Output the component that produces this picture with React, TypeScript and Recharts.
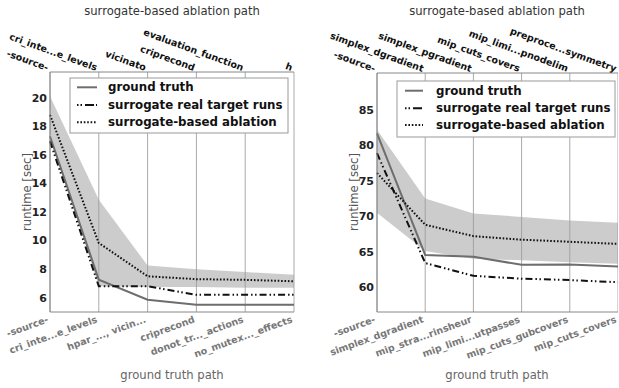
import { ComposedChart, Line, Area, XAxis, YAxis, CartesianGrid } from 'recharts';

const FONT = '"DejaVu Sans", sans-serif';

// left panel
const leftGroundTruthPath = ['-source-', 'cri_inte...e_levels', 'hpar_..., vicin...', 'criprecond', 'donot_tr..._actions', 'no_mutex..._effects'];
const leftSurrogatePath = ['-source-', 'cri_inte...e_levels', 'vicinato', 'criprecond', 'evaluation_function', 'h'];
const leftGroundTruth = [17.3, 7.26, 5.86, 5.5, 5.5, 5.5];
const leftRealRuns = [16.95, 6.8, 6.8, 6.2, 6.2, 6.2];
const leftAblation = [18.8, 9.83, 7.5, 7.3, 7.25, 7.15];
const leftBandLow = [17.5, 6.8, 6.75, 6.75, 6.7, 6.7];
const leftBandHigh = [20.1, 12.86, 8.25, 8.0, 7.8, 7.6];
const leftYTicks = [6, 8, 10, 12, 14, 16, 18, 20];

// right panel
const rightGroundTruthPath = ['-source-', 'simplex_dgradient', 'mip_stra...rinsheur', 'mip_limi...utpasses', 'mip_cuts_gubcovers', 'mip_cuts_covers'];
const rightSurrogatePath = ['-source-', 'simplex_dgradient', 'simplex_pgradient', 'mip_cuts_covers', 'mip_limi...pnodelim', 'preproce...symmetry'];
const rightGroundTruth = [81.7, 64.55, 64.3, 63.15, 63.2, 62.9];
const rightRealRuns = [78.9, 63.4, 61.6, 61.2, 61.0, 60.7];
const rightAblation = [76.1, 68.8, 67.2, 66.7, 66.4, 66.1];
const rightBandLow = [70.5, 65.1, 64.0, 63.8, 63.5, 63.3];
const rightBandHigh = [82.2, 72.5, 70.4, 69.9, 69.4, 69.1];
const rightYTicks = [60, 65, 70, 75, 80, 85];

const seriesNames = ['ground truth', 'surrogate real target runs', 'surrogate-based ablation'];

const buildRows = (gt: number[], real: number[], abl: number[], lo: number[], hi: number[]) =>
    gt.map((v, i) => ({ idx: i, gt: v, real: real[i], abl: abl[i], band: [lo[i], hi[i]] }));

const REAL_DASH = '7 3 1.5 2.5 1.5 3';
const DOT_DASH = '1.6 1.8';

const Panel = ({ data, bottomLabels, topLabels, yDomain, yTicks, yWidth, topH, w, rightM }: any) => (
    <ComposedChart width={w} height={388} data={data} margin={{ top: 0, right: rightM, bottom: 0, left: 0 }}>
        <CartesianGrid horizontal={false} stroke="#aaa" />
        <XAxis
            type="number"
            dataKey="idx"
            domain={[0, 5]}
            ticks={[0, 1, 2, 3, 4, 5]}
            interval={0}
            height={76}
            tickLine={false}
            tickSize={0}
            tickMargin={0}
            axisLine={{ stroke: '#888' }}
            tick={(p: any) => (
                <text
                    x={p.x - 1}
                    y={p.y + 10}
                    textAnchor="end"
                    transform={`rotate(-20, ${p.x - 1}, ${p.y + 10})`}
                    fill="#777"
                    fontSize={9.5}
                    fontWeight="bold"
                    fontFamily={FONT}
                >
                    {bottomLabels[p.payload.value]}
                </text>
            )}
        />
        <XAxis
            xAxisId="top"
            orientation="top"
            type="number"
            dataKey="idx"
            domain={[0, 5]}
            ticks={[0, 1, 2, 3, 4, 5]}
            interval={0}
            height={topH}
            tickLine={false}
            tickSize={0}
            tickMargin={0}
            axisLine={{ stroke: '#888' }}
            tick={(p: any) => (
                <text
                    x={p.x - 3}
                    y={p.y - 1}
                    textAnchor="end"
                    transform={`rotate(20, ${p.x - 3}, ${p.y - 1})`}
                    fill="#111"
                    fontSize={9.5}
                    fontWeight="bold"
                    fontFamily={FONT}
                >
                    {topLabels[p.payload.value]}
                </text>
            )}
        />
        <YAxis
            type="number"
            domain={yDomain}
            ticks={yTicks}
            interval={0}
            allowDataOverflow
            width={yWidth}
            tickLine={false}
            tickSize={0}
            tickMargin={3}
            axisLine={{ stroke: '#888' }}
            tick={{ fill: '#222', fontSize: 11, fontWeight: 'bold', fontFamily: FONT }}
        />
        <Area dataKey="band" type="linear" fill="#999" fillOpacity={0.5} stroke="none" isAnimationActive={false} />
        <Line dataKey="gt" type="linear" stroke="#6e6e6e" strokeWidth={2} dot={false} activeDot={false} isAnimationActive={false} />
        <Line dataKey="real" type="linear" stroke="#111" strokeWidth={2} strokeDasharray={REAL_DASH} dot={false} activeDot={false} isAnimationActive={false} />
        <Line dataKey="abl" type="linear" stroke="#111" strokeWidth={2} strokeDasharray={DOT_DASH} dot={false} activeDot={false} isAnimationActive={false} />
    </ComposedChart>
);

const LegendBox = ({ x, y, w, h, rowY, sx1, sx2, tx }: any) => (
    <g>
        <rect x={x} y={y} width={w} height={h} fill="#fff" stroke="#999" />
        <line x1={sx1} x2={sx2} y1={rowY[0]} y2={rowY[0]} stroke="#6e6e6e" strokeWidth={2} />
        <line x1={sx1} x2={sx2} y1={rowY[1]} y2={rowY[1]} stroke="#111" strokeWidth={2} strokeDasharray="1.5 2 1.5 3 9 2" />
        <line x1={sx1} x2={sx2} y1={rowY[2]} y2={rowY[2]} stroke="#111" strokeWidth={2} strokeDasharray={DOT_DASH} />
        {seriesNames.map((n, i) => (
            <text key={n} x={tx} y={rowY[i] + 4} fontSize={11.8} fontWeight="bold" fontFamily={FONT} fill="#111">
                {n}
            </text>
        ))}
    </g>
);

const Labels = ({ cx, ylx, cy }: any) => (
    <g fontFamily={FONT} fontSize={11.6}>
        <text x={cx} y={15} textAnchor="middle" fill="#333">surrogate-based ablation path</text>
        <text x={cx} y={379} textAnchor="middle" fill="#666">ground truth path</text>
        <text x={ylx} y={cy} textAnchor="middle" fill="#555" transform={`rotate(-90, ${ylx}, ${cy})`}>runtime [sec]</text>
    </g>
);

export default function App() {
    const leftData = buildRows(leftGroundTruth, leftRealRuns, leftAblation, leftBandLow, leftBandHigh);
    const rightData = buildRows(rightGroundTruth, rightRealRuns, rightAblation, rightBandLow, rightBandHigh);
    return (
        <div style={{ position: 'absolute', left: 0, top: 0, width: 619, height: 388, overflow: 'hidden', background: '#fff' }}>
            <div style={{ position: 'absolute', left: 0, top: 0 }}>
                <Panel data={leftData} bottomLabels={leftGroundTruthPath} topLabels={leftSurrogatePath} yDomain={[5, 21.8]} yTicks={leftYTicks} yWidth={50} topH={72} w={310} rightM={16} />
            </div>
            <div style={{ position: 'absolute', left: 310, top: 0 }}>
                <Panel data={rightData} bottomLabels={rightGroundTruthPath} topLabels={rightSurrogatePath} yDomain={[56.5, 90.2]} yTicks={rightYTicks} yWidth={67} topH={73} w={308} rightM={0} />
            </div>
            <svg width={619} height={388} style={{ position: 'absolute', left: 0, top: 0, pointerEvents: 'none' }}>
                <Labels cx={172} ylx={31} cy={192} />
                <Labels cx={497} ylx={358} cy={192} />
                <LegendBox x={70} y={78} w={218} h={55} rowY={[87.3, 105, 122.3]} sx1={77} sx2={97} tx={108} />
                <LegendBox x={397} y={81} w={218} h={56} rowY={[90.7, 108.3, 125]} sx1={405} sx2={423} tx={436} />
            </svg>
        </div>
    );
}
